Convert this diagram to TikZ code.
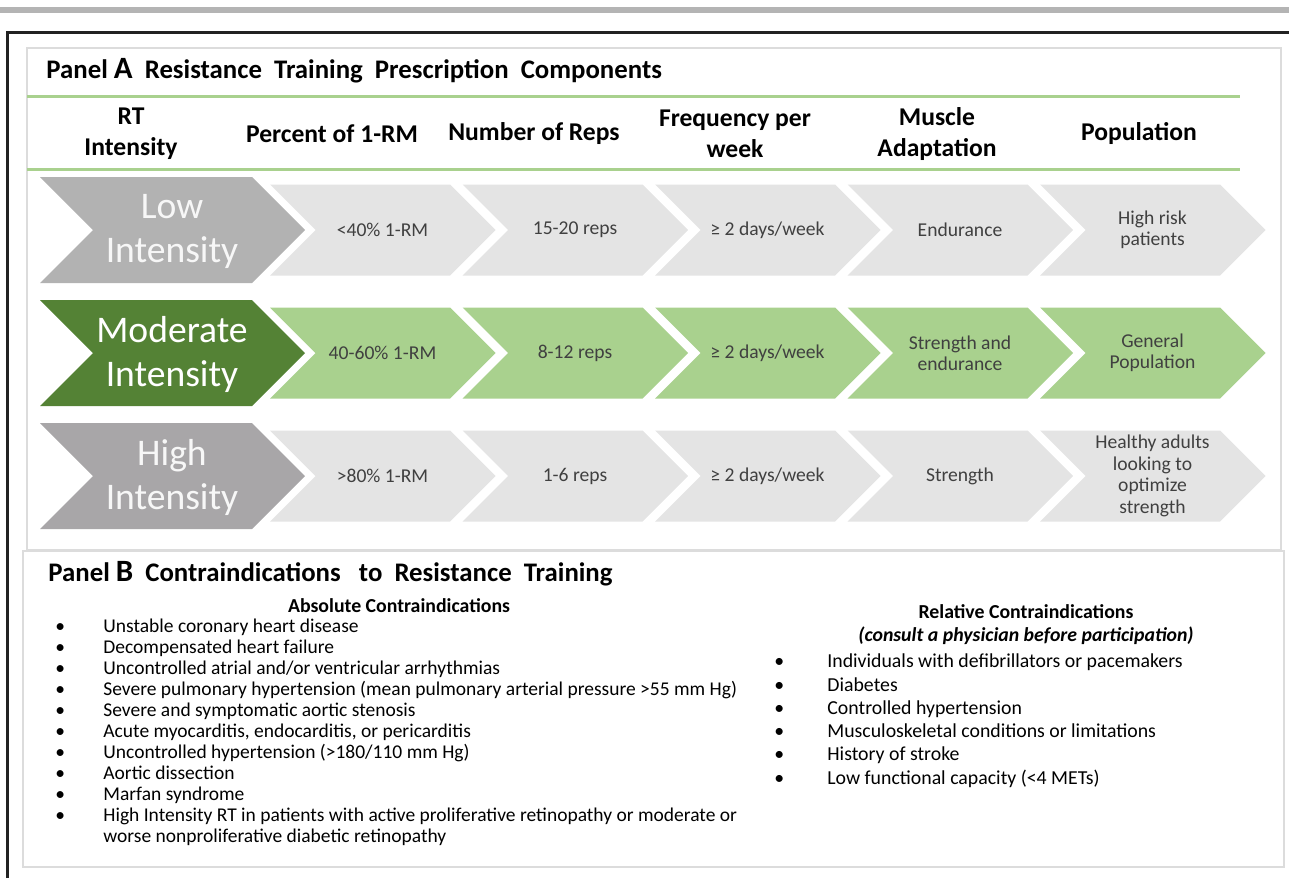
\documentclass[tikz,border=0pt]{standalone}
\usepackage{fontspec}
\setmainfont{Carlito}
\usepackage{array}
\definecolor{barGray}{HTML}{B4B4B4}
\definecolor{frameBlack}{HTML}{222222}
\definecolor{boxGray}{HTML}{DCDCDC}
\definecolor{ruleGreen}{HTML}{A9D18E}
\definecolor{lowGray}{HTML}{B2B2B2}
\definecolor{highGray}{HTML}{A8A6A8}
\definecolor{modGreen}{HTML}{548235}
\definecolor{cellGray}{HTML}{E4E4E4}
\definecolor{cellGreen}{HTML}{A9D18E}
\definecolor{cellText}{HTML}{404040}
% chevron: fill style, left x, middle y, top edge length, half height
\newcommand{\chevron}[5]{\fill[#1] (#2,#3-#5) -- ++(#4,0) -- ++(#5,#5) -- ++(-#5,#5) -- ++(-#4,0) -- ++(#5,-#5) -- cycle;}
\tikzset{
      panel/.style={draw=boxGray, line width=0.8},
      greenrule/.style={draw=ruleGreen, line width=1.5},
      title/.style={font=\bfseries\fontsize{13.4}{15}\selectfont, anchor=base west, inner sep=0},
      header/.style={font=\bfseries\fontsize{12.8}{15.5}\selectfont, align=center},
      intensity/.style={text=white!94!gray, font=\fontsize{18.8}{22}\selectfont, align=center},
      cell/.style={text=cellText, font=\fontsize{9.8}{10.5}\selectfont, align=center},
      subhead/.style={font=\bfseries\fontsize{9.9}{11.5}\selectfont, align=center},
      listing/.style={font=\fontsize{9.75}{10.5}\selectfont, anchor=north west, inner sep=0},
}
\begin{document}
\begin{tikzpicture}[x=0.5pt, y=-0.5pt]
        \useasboundingbox (0,0) rectangle (1289,878);

        % Frame
        \fill[barGray] (0,7) rectangle (1289,13);
        \draw[frameBlack, line width=1.5] (7,878) -- (7,32) -- (1289,32);
        \draw[panel] (27,48) rectangle (1281,550);
        \draw[panel] (23,551) rectangle (1284,867);

        % Panel A
        \node[title] (titleA) at (46,78) {Panel {\fontsize{15.5}{15}\selectfont A}\ \ Resistance\ \ Training\ \ Prescription\ \ Components};
        \draw[greenrule] (27,96) -- (1240,96);
        \draw[greenrule] (27,169) -- (1240,169);

        \node[header] (hInt) at (131,134) {RT\\Intensity};
        \node[header] (hPct) at (332,134) {Percent of 1-RM};
        \node[header] (hReps) at (534,134) {Number of Reps};
        \node[header] (hFreq) at (735,134) {Frequency per\\week};
        \node[header] (hMusc) at (937,134) {Muscle\\Adaptation};
        \node[header] (hPop) at (1139,134) {Population};

        % Low intensity row
        \chevron{lowGray}{40}{230}{212}{53}
        \chevron{cellGray}{270}{230}{180}{45.5}
        \chevron{cellGray}{462.5}{230}{180}{45.5}
        \chevron{cellGray}{655}{230}{180}{45.5}
        \chevron{cellGray}{847.5}{230}{180}{45.5}
        \chevron{cellGray}{1040}{230}{180}{45.5}
        \node[intensity] (low) at (172,231) {Low\\Intensity};
        \node[cell] (lowPct) at (382.5,230) {<40\% 1-RM};
        \node[cell] (lowReps) at (575,230) {15-20 reps};
        \node[cell] (lowFreq) at (767.5,230) {≥ 2 days/week};
        \node[cell] (lowMusc) at (960,230) {Endurance};
        \node[cell] (lowPop) at (1152.5,230) {High risk\\patients};

        % Moderate intensity row
        \chevron{modGreen}{40}{353}{212}{53}
        \chevron{cellGreen}{270}{353}{180}{45.5}
        \chevron{cellGreen}{462.5}{353}{180}{45.5}
        \chevron{cellGreen}{655}{353}{180}{45.5}
        \chevron{cellGreen}{847.5}{353}{180}{45.5}
        \chevron{cellGreen}{1040}{353}{180}{45.5}
        \node[intensity, text=white] (mod) at (172,354) {Moderate\\Intensity};
        \node[cell] (modPct) at (382.5,353) {40-60\% 1-RM};
        \node[cell] (modReps) at (575,353) {8-12 reps};
        \node[cell] (modFreq) at (767.5,353) {≥ 2 days/week};
        \node[cell] (modMusc) at (960,353) {Strength and\\endurance};
        \node[cell] (modPop) at (1152.5,353) {General\\Population};

        % High intensity row
        \chevron{highGray}{40}{476}{212}{53}
        \chevron{cellGray}{270}{476}{180}{45.5}
        \chevron{cellGray}{462.5}{476}{180}{45.5}
        \chevron{cellGray}{655}{476}{180}{45.5}
        \chevron{cellGray}{847.5}{476}{180}{45.5}
        \chevron{cellGray}{1040}{476}{180}{45.5}
        \node[intensity] (high) at (172,477) {High\\Intensity};
        \node[cell] (highPct) at (382.5,476) {>80\% 1-RM};
        \node[cell] (highReps) at (575,476) {1-6 reps};
        \node[cell] (highFreq) at (767.5,476) {≥ 2 days/week};
        \node[cell] (highMusc) at (960,476) {Strength};
        \node[cell, font=\fontsize{9.8}{10.8}\selectfont] (highPop) at (1152.5,476) {Healthy adults\\looking to\\optimize\\strength};

        % Panel B
        \node[title] (titleB) at (48,581) {Panel {\fontsize{15.5}{15}\selectfont B}\ \ Contraindications\ \ \ to\ \ Resistance\ \ Training};

        \node[subhead] (absHead) at (399,606) {Absolute Contraindications};
        \node[listing] (absList) at (55,617) {\begin{tabular}{@{}p{24pt}@{}l@{}}
            • & Unstable coronary heart disease\\
            • & Decompensated heart failure\\
            • & Uncontrolled atrial and/or ventricular arrhythmias\\
            • & Severe pulmonary hypertension (mean pulmonary arterial pressure >55 mm Hg)\\
            • & Severe and symptomatic aortic stenosis\\
            • & Acute myocarditis, endocarditis, or pericarditis\\
            • & Uncontrolled hypertension (>180/110 mm Hg)\\
            • & Aortic dissection\\
            • & Marfan syndrome\\
            • & High Intensity RT in patients with active proliferative retinopathy or moderate or\\
              & worse nonproliferative diabetic retinopathy
        \end{tabular}};

        \node[subhead] (relHead) at (1026,625) {Relative Contraindications\\\textit{(consult a physician before participation)}};
        \node[listing, font=\fontsize{9.9}{11.65}\selectfont] (relList) at (774,651) {\begin{tabular}{@{}p{26.5pt}@{}l@{}}
            • & Individuals with defibrillators or pacemakers\\
            • & Diabetes\\
            • & Controlled hypertension\\
            • & Musculoskeletal conditions or limitations\\
            • & History of stroke\\
            • & Low functional capacity (<4 METs)
        \end{tabular}};

    \end{tikzpicture}
\end{document}
